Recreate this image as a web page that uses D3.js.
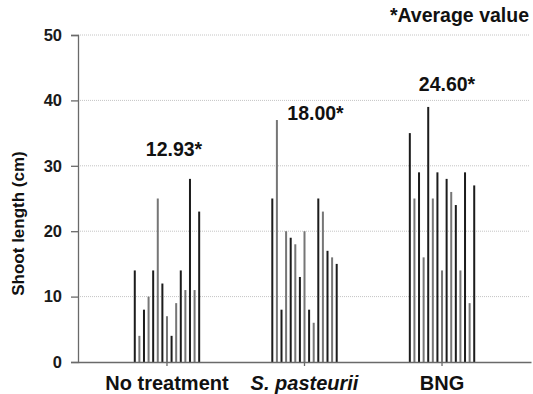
<!DOCTYPE html>
<html>
<head>
<meta charset="utf-8">
<script src="https://cdn.jsdelivr.net/npm/d3@7"></script>
<style>
  body { margin: 0; background: #fff; }
  svg { display: block; font-family: "Liberation Sans", Arial, sans-serif; }
</style>
</head>
<body>
<div id="chart"></div>
<script>
// groups and the 15 individual plant measurements per group
const groups = ['No treatment', 'S. pasteurii', 'BNG'];
const noTreatment = [14, 4, 8, 10, 14, 25, 12, 7, 4, 9, 14, 11, 28, 11, 23];
const sPasteurii = [25, 37, 8, 20, 19, 18, 13, 20, 8, 6, 25, 23, 17, 16, 15];
const bng = [35, 25, 29, 16, 39, 25, 29, 14, 28, 26, 24, 14, 29, 9, 27];
const averages = ['12.93*', '18.00*', '24.60*'];
const yTicks = [0, 10, 20, 30, 40, 50];

const series = [noTreatment, sPasteurii, bng];

const width = 533, height = 394;
const margin = { top: 35, right: 2, bottom: 32, left: 78 };

const svg = d3.select('#chart').append('svg')
    .attr('width', width)
    .attr('height', height);

const y = d3.scaleLinear()
    .domain([0, 50])
    .range([height - margin.bottom, margin.top]);

const x = d3.scaleBand()
    .domain(groups)
    .range([margin.left, width - margin.right])
    .paddingInner(0)
    .paddingOuter(0.147);

const inner = d3.scaleBand()
    .domain(d3.range(15))
    .range([-34.5, 34.5]);

// dotted grid lines
svg.append('g')
    .selectAll('line')
    .data(yTicks.filter(d => d > 0))
    .enter().append('line')
    .attr('x1', margin.left)
    .attr('x2', width - 3)
    .attr('y1', d => y(d))
    .attr('y2', d => y(d))
    .attr('stroke', '#c4c4c4')
    .attr('stroke-width', 1)
    .attr('stroke-dasharray', '1,1');

// bars
series.forEach((vals, gi) => {
    const cx = x(groups[gi]) + x.bandwidth() / 2;
    svg.append('g')
        .selectAll('rect')
        .data(vals)
        .enter().append('rect')
        .attr('x', (d, i) => cx + inner(i) + inner.bandwidth() / 2 - 1)
        .attr('width', 2)
        .attr('y', d => y(d))
        .attr('height', d => y(0) - y(d))
        .attr('fill', (d, i) => i % 2 === 0 ? '#1c1c1c' : '#767676');
});

// y axis
const yAxis = svg.append('g')
    .attr('transform', `translate(${margin.left},0)`)
    .call(d3.axisLeft(y).tickValues(yTicks).tickSize(7).tickPadding(9));
yAxis.select('.domain').attr('stroke', '#6a6a6a').attr('stroke-width', 1.3);
yAxis.selectAll('.tick line').attr('stroke', '#6a6a6a').attr('stroke-width', 1.3);
yAxis.selectAll('.tick text')
    .attr('font-size', 16.5)
    .attr('font-weight', 'bold')
    .attr('fill', '#1a1a1a')
    .attr('font-family', '"Liberation Sans", Arial, sans-serif');

// x axis
const xAxis = svg.append('g')
    .attr('transform', `translate(0,${y(0)})`)
    .call(d3.axisBottom(x).tickSize(4).tickSizeOuter(0).tickFormat(''));
xAxis.select('.domain').attr('stroke', '#6a6a6a').attr('stroke-width', 1.3);
xAxis.selectAll('.tick line').attr('stroke', '#6a6a6a').attr('stroke-width', 1.3);

// category labels
svg.append('g')
    .selectAll('text')
    .data(groups)
    .enter().append('text')
    .attr('x', d => x(d) + x.bandwidth() / 2)
    .attr('y', height - 4)
    .attr('text-anchor', 'middle')
    .attr('font-size', 20)
    .attr('font-weight', 'bold')
    .attr('fill', '#111')
    .attr('font-style', d => d === 'S. pasteurii' ? 'italic' : 'normal')
    .text(d => d);

// average labels above each group
const labelBase = [30, 40, 41.5];
svg.append('g')
    .selectAll('text')
    .data(averages)
    .enter().append('text')
    .attr('x', (d, i) => x(groups[i]) + x.bandwidth() / 2 + [7, 11, 5][i])
    .attr('y', (d, i) => y(labelBase[i]) - [10, -20, 0][i])
    .attr('text-anchor', 'middle')
    .attr('font-size', 19.5)
    .attr('font-weight', 'bold')
    .attr('fill', '#111')
    .text(d => d);

// y axis title
svg.append('text')
    .attr('transform', `translate(24,${(y(0) + y(50)) / 2 + 25}) rotate(-90)`)
    .attr('text-anchor', 'middle')
    .attr('font-size', 17)
    .attr('font-weight', 'bold')
    .attr('fill', '#111')
    .text('Shoot length (cm)');

// note
svg.append('text')
    .attr('x', width - 4)
    .attr('y', 22)
    .attr('text-anchor', 'end')
    .attr('font-size', 19.5)
    .attr('font-weight', 'bold')
    .attr('fill', '#111')
    .text('*Average value');
</script>
</body>
</html>
